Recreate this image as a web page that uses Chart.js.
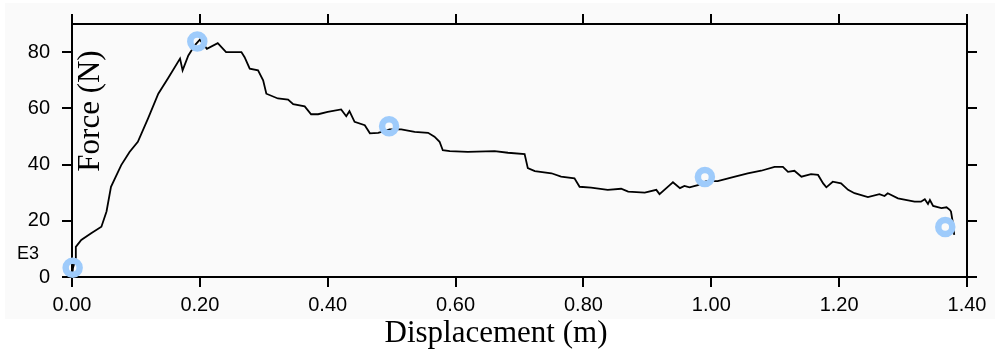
<!DOCTYPE html>
<html>
<head>
<meta charset="utf-8">
<script src="https://cdn.jsdelivr.net/npm/chart.js@4.4.1/dist/chart.umd.min.js"></script>
<style>
  html, body { margin: 0; padding: 0; background: #fff; }
  #wrap { width: 995px; height: 360px; }
</style>
</head>
<body>
<div id="wrap"><canvas id="chart" width="995" height="360"></canvas></div>
<script>
/* force vs displacement, specimen E3 */
const dispM = [
  0, 0.0016, 0.006, 0.006, 0.0145, 0.030, 0.046, 0.054, 0.061, 0.077,
  0.090, 0.103, 0.119, 0.135, 0.150, 0.169, 0.173, 0.182, 0.192, 0.200,
  0.211, 0.228, 0.241, 0.265, 0.270, 0.278, 0.291, 0.299, 0.304, 0.322,
  0.338, 0.346, 0.364, 0.374, 0.385, 0.400, 0.421, 0.429, 0.434, 0.442,
  0.458, 0.466, 0.479, 0.497, 0.515, 0.536, 0.557, 0.567, 0.575, 0.580,
  0.591, 0.619, 0.661, 0.682, 0.708, 0.713, 0.724, 0.750, 0.765, 0.786,
  0.794, 0.812, 0.838, 0.859, 0.870, 0.896, 0.914, 0.919, 0.935, 0.940,
  0.951, 0.958, 0.966, 0.979, 0.992, 1.010, 1.037, 1.057, 1.078, 1.099,
  1.112, 1.120, 1.130, 1.141, 1.156, 1.167, 1.175, 1.180, 1.190, 1.203,
  1.214, 1.224, 1.245, 1.263, 1.271, 1.276, 1.292, 1.318, 1.328, 1.334,
  1.339, 1.342, 1.347, 1.360, 1.368, 1.373, 1.375, 1.378, 1.380
];
const forceN = [
  0, 3.3, 6.8, 10.7, 13.2, 15.6, 17.9, 23.3, 32.1, 39.8,
  44.5, 48.1, 56.4, 65.2, 70.6, 77.7, 73.5, 78.8, 82.4, 84.4,
  81.2, 83.2, 80.0, 80.0, 78.2, 74.1, 73.5, 70.0, 65.2, 63.5,
  63.1, 61.5, 60.7, 57.9, 57.9, 58.7, 59.6, 57.2, 59.0, 55.2,
  54.0, 51.1, 51.3, 52.5, 52.5, 51.6, 51.3, 49.9, 48.1, 45.1,
  44.8, 44.5, 44.8, 44.2, 43.7, 38.7, 37.7, 36.9, 35.7, 35.1,
  32.1, 31.8, 31.0, 31.4, 30.4, 30.0, 31.0, 29.5, 32.7, 33.7,
  31.6, 32.4, 31.9, 32.7, 34.1, 34.1, 35.7, 36.9, 37.8, 39.2,
  39.2, 37.4, 37.8, 35.7, 36.6, 36.3, 33.3, 31.9, 33.9, 33.3,
  31.0, 29.8, 28.4, 29.5, 28.8, 29.8, 28.0, 26.8, 26.8, 27.7,
  26.0, 27.4, 25.3, 24.5, 24.8, 23.9, 23.3, 19.1, 15.0
];
// highlighted points (rings)
const markDisp  = [0.001, 0.196, 0.496, 0.990, 1.366];
const markForce = [3.3, 83.8, 53.6, 35.6, 17.8];

const xMin = 0, xMax = 1.4, xStep = 0.2;
const yMin = 0, yMax = 90, yStep = 20;
const xTitle = 'Displacement (m)';
const yTitle = 'Force (N)';
const specimen = 'E3';

const curve = dispM.map((x, i) => ({ x: x, y: forceN[i] }));
const marks = markDisp.map((x, i) => ({ x: x, y: markForce[i] }));

const tickFont = { family: 'Liberation Sans, Arial, sans-serif', size: 20 };

function axis(pos, opts) {
  const horiz = pos === 'top' || pos === 'bottom';
  return Object.assign({
    type: 'linear',
    position: pos,
    min: horiz ? xMin : yMin,
    max: horiz ? xMax : yMax,
    border: { display: true, color: '#000', width: 2 },
    grid: { drawOnChartArea: false, drawTicks: true, tickLength: 10, color: '#000', lineWidth: 2 },
    ticks: {
      stepSize: horiz ? xStep : yStep,
      includeBounds: false,
      color: '#000',
      font: tickFont,
      maxRotation: 0,
      autoSkip: false,
    },
  }, opts);
}

const bgPlugin = {
  id: 'bg',
  beforeDraw(chart) {
    const c = chart.ctx;
    c.save();
    c.fillStyle = '#fafafa';
    c.fillRect(5, 3, 990, 316);
    c.restore();
  }
};

const textPlugin = {
  id: 'texts',
  afterDraw(chart) {
    const c = chart.ctx;
    const a = chart.chartArea;
    c.save();
    c.fillStyle = '#000';
    c.textAlign = 'center';
    c.textBaseline = 'middle';
    c.font = '31px "Liberation Serif", "Times New Roman", serif';
    c.fillText(xTitle, 496, 334);
    c.save();
    c.translate(a.left + 19, 111);
    c.rotate(-Math.PI / 2);
    c.fillText(yTitle, 0, 0);
    c.restore();
    c.font = '18px "Liberation Sans", Arial, sans-serif';
    c.fillText(specimen, 28, 254);
    c.restore();
  }
};

new Chart(document.getElementById('chart').getContext('2d'), {
  type: 'scatter',
  data: {
    datasets: [
      {
        label: 'marks',
        data: marks,
        order: 0,
        clip: false,
        pointRadius: 7,
        pointBorderWidth: 6.5,
        pointBorderColor: '#9ecbfb',
        pointBackgroundColor: 'rgba(0,0,0,0)',
        showLine: false,
      },
      {
        label: 'curve',
        data: curve,
        order: 1,
        showLine: true,
        borderColor: '#000',
        borderWidth: 1.8,
        pointRadius: 0,
        tension: 0,
      },
    ],
  },
  options: {
    responsive: false,
    animation: false,
    events: [],
    layout: { padding: 0 },
    plugins: { legend: { display: false }, tooltip: { enabled: false } },
    scales: {
      x: axis('bottom', {
        afterFit(s) { s.height = 83; },
        ticks: Object.assign({}, axis('bottom').ticks, { padding: 6, callback: v => v.toFixed(2) }),
      }),
      x2: axis('top', {
        afterFit(s) { s.height = 23; },
        ticks: Object.assign({}, axis('top').ticks, { display: false }),
      }),
      y: axis('left', {
        afterFit(s) { s.width = 72; },
        ticks: Object.assign({}, axis('left').ticks, { padding: 12 }),
      }),
      y2: axis('right', {
        afterFit(s) { s.width = 28; },
        ticks: Object.assign({}, axis('right').ticks, { display: false }),
      }),
    },
  },
  plugins: [bgPlugin, textPlugin],
});
</script>
</body>
</html>
